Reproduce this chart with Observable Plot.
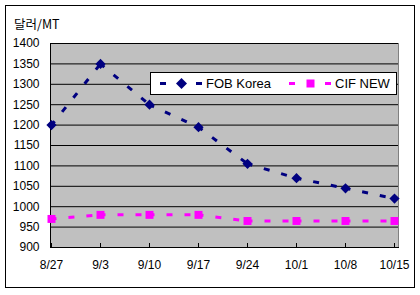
<!DOCTYPE html>
<html>
<head>
<meta charset="utf-8">
<script src="https://cdn.jsdelivr.net/npm/d3@7"></script>
<script src="https://cdn.jsdelivr.net/npm/@observablehq/plot@0.6"></script>
<style>
  body { margin: 0; background: #fff; font-family: "Liberation Sans", Arial, sans-serif; }
  #wrap { position: relative; width: 420px; height: 295px; overflow: hidden; }
  #chart { position: absolute; left: 0; top: 0; }
  #border { position: absolute; left: 5px; top: 5px; width: 410px; height: 283px; box-sizing: border-box; border: 1px solid #000; pointer-events: none; }
  #title { position: absolute; left: 14px; top: 15px; font-family: "Noto Sans CJK KR", "Liberation Sans", sans-serif; font-size: 12.5px; line-height: 18px; color: #000; }
  #legend { position: absolute; left: 150px; top: 72px; width: 247px; height: 23px; box-sizing: border-box; border: 1px solid #000; background: #fff; }
  #legend svg { position: absolute; left: 0; top: 0; }
</style>
</head>
<body>
<div id="wrap">
  <div id="chart"></div>
  <div id="border"></div>
  <div id="title">달러/MT</div>
  <div id="legend"></div>
</div>
<script>
const dates = ["8/27", "9/3", "9/10", "9/17", "9/24", "10/1", "10/8", "10/15"];
const fobKorea = [1200, 1350, 1250, 1195, 1105, 1070, 1045, 1020];
const cifNew = [970, 980, 980, 980, 965, 965, 965, 965];
const yTicks = [900, 950, 1000, 1050, 1100, 1150, 1200, 1250, 1300, 1350, 1400];
const seriesNames = ["FOB Korea", "CIF NEW"];
const colors = ["#000080", "#ff00ff"];

const fobRows = dates.map((d, i) => ({date: d, value: fobKorea[i]}));
const cifRows = dates.map((d, i) => ({date: d, value: cifNew[i]}));
const segs = rows => rows.slice(1).map((r, i) => ({x1: rows[i].date, y1: rows[i].value, x2: r.date, y2: r.value}));

const chart = Plot.plot({
  width: 420,
  height: 295,
  marginLeft: 50,
  marginRight: 22,
  marginTop: 43,
  marginBottom: 48,
  style: {fontFamily: "'Liberation Sans', Arial, sans-serif", fontSize: "12px", background: "transparent", color: "#000"},
  x: {type: "point", domain: dates, padding: 0, insetLeft: 1, insetRight: 4},
  y: {domain: [900, 1400]},
  marks: [
    Plot.frame({fill: "#c0c0c0", stroke: "#808080"}),
    Plot.gridY(yTicks, {stroke: "#000", strokeOpacity: 1, strokeWidth: 1}),
    Plot.frame({anchor: "left", stroke: "#000"}),
    Plot.frame({anchor: "bottom", stroke: "#000"}),
    Plot.axisY(yTicks, {tickSize: 0, tickPadding: 11, label: null, fontSize: 12, tickFormat: d => String(d)}),
    Plot.axisX({tickSize: -4, tickPadding: 17, label: null, fontSize: 12}),
    Plot.link(segs(fobRows), {x1: "x1", y1: "y1", x2: "x2", y2: "y2", stroke: colors[0], strokeWidth: 3, strokeDasharray: "6,12", strokeDashoffset: 1}),
    Plot.link(segs(cifRows), {x1: "x1", y1: "y1", x2: "x2", y2: "y2", stroke: colors[1], strokeWidth: 3, strokeDasharray: "6,12", strokeDashoffset: 1}),
    Plot.dot(fobRows, {x: "date", y: "value", symbol: "diamond2", fill: colors[0], stroke: "none", r: 4.6}),
    Plot.dot(cifRows, {x: "date", y: "value", symbol: "square", fill: colors[1], stroke: "none", r: 4.5})
  ]
});
document.getElementById("chart").appendChild(chart);

// Legend
const ns = "http://www.w3.org/2000/svg";
const lg = document.createElementNS(ns, "svg");
lg.setAttribute("width", 247);
lg.setAttribute("height", 23);
const items = [
  {x0: 9, name: seriesNames[0], color: colors[0], shape: "diamond"},
  {x0: 138, name: seriesNames[1], color: colors[1], shape: "square"}
];
items.forEach(it => {
  const cy = 10.5;
  [[it.x0, it.x0 + 6], [it.x0 + 36, it.x0 + 42]].forEach(([a, b]) => {
    const l = document.createElementNS(ns, "line");
    l.setAttribute("x1", a); l.setAttribute("x2", b);
    l.setAttribute("y1", cy); l.setAttribute("y2", cy);
    l.setAttribute("stroke", it.color); l.setAttribute("stroke-width", 3);
    lg.appendChild(l);
  });
  const cx = it.x0 + 21.5;
  if (it.shape === "diamond") {
    const p = document.createElementNS(ns, "path");
    p.setAttribute("d", `M${cx},${cy - 5.5}L${cx + 5.5},${cy}L${cx},${cy + 5.5}L${cx - 5.5},${cy}Z`);
    p.setAttribute("fill", it.color);
    lg.appendChild(p);
  } else {
    const r = document.createElementNS(ns, "rect");
    r.setAttribute("x", cx - 4); r.setAttribute("y", cy - 4);
    r.setAttribute("width", 8); r.setAttribute("height", 8);
    r.setAttribute("fill", it.color);
    lg.appendChild(r);
  }
  const t = document.createElementNS(ns, "text");
  t.setAttribute("x", it.x0 + 46);
  t.setAttribute("y", cy + 4.6);
  t.setAttribute("font-size", "13px");
  t.setAttribute("font-family", "'Liberation Sans', Arial, sans-serif");
  t.setAttribute("fill", "#000");
  t.textContent = it.name;
  lg.appendChild(t);
});
document.getElementById("legend").appendChild(lg);
</script>
</body>
</html>
